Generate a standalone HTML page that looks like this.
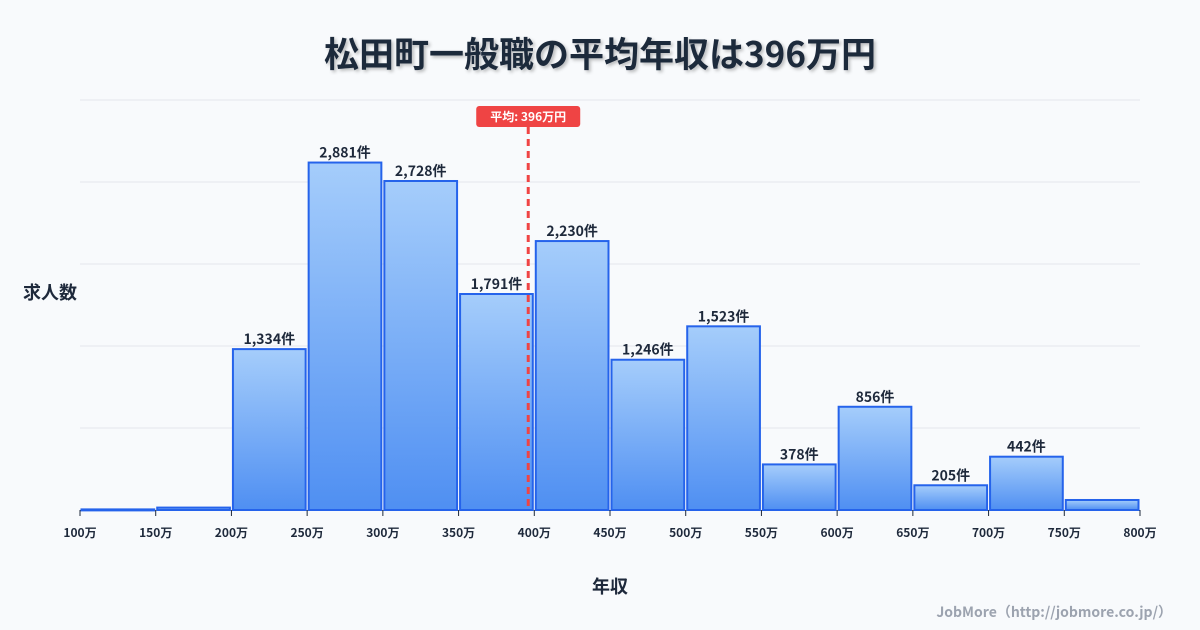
<!DOCTYPE html>
<html><head><meta charset="utf-8"><style>
body{margin:0;background:#f8fafc;}
svg{display:block;font-family:"Noto Sans CJK JP","Liberation Sans",sans-serif;}
</style></head><body>
<svg id="c" width="1200" height="630" viewBox="0 0 1200 630">
<defs><linearGradient id="g" x1="0" y1="0" x2="0" y2="1"><stop offset="0" stop-color="#a5cdfb"/><stop offset="1" stop-color="#4f8ff2"/></linearGradient>
<filter id="sh" x="-5%" y="-20%" width="110%" height="140%"><feDropShadow dx="2" dy="2" stdDeviation="1.5" flood-color="#000" flood-opacity="0.25"/></filter></defs>
<rect width="1200" height="630" fill="#f8fafc"/>
<text x="600" y="67" text-anchor="middle" font-size="35" font-weight="bold" fill="#1e293b" filter="url(#sh)">松田町一般職の平均年収は396万円</text>
<text x="50" y="299" text-anchor="middle" font-size="18" font-weight="bold" fill="#1e293b">求人数</text>
<text x="610" y="593" text-anchor="middle" font-size="18" font-weight="bold" fill="#1e293b">年収</text>
<text x="1172" y="617" text-anchor="end" font-size="14" font-weight="bold" fill="#9ca3af">JobMore（http://jobmore.co.jp/）</text>
<g id="grid"></g><g id="bars"></g><g id="ticks"></g><g id="mean"></g>
</svg>
<script>
const bins=[100,150,200,250,300,350,400,450,500,550,600,650,700,750,800];
const counts=[5,20,1334,2881,2728,1791,2230,1246,1523,378,856,205,442,83];
const showLabel=[false,false,true,true,true,true,true,true,true,true,true,true,true,false];
const meanValue=396;
const NS="http://www.w3.org/2000/svg";
const x0=80,x1=1140,yb=510,yt=100;
const ymax=Math.max(...counts)*1.18;
const xs=v=>x0+(v-bins[0])/(bins[bins.length-1]-bins[0])*(x1-x0);
const ys=v=>yb-v/ymax*(yb-yt);
function mk(t,a,p){const e=document.createElementNS(NS,t);for(const k in a)e.setAttribute(k,a[k]);p.appendChild(e);return e;}
const grid=document.getElementById('grid');
for(let i=0;i<=5;i++){const y=yb-i*(yb-yt)/5;const l=mk('line',{x1:x0,x2:x1,y1:y,y2:y,stroke:'#e5e7eb','stroke-width':1},grid);

}
const bars=document.getElementById('bars');
counts.forEach((c,i)=>{const a=xs(bins[i])+1.5,b=xs(bins[i+1])-1.5,y=ys(c);
const r=mk('rect',{x:a,y:y,width:b-a,height:Math.max(yb-y,1),fill:'url(#g)',stroke:'#2563eb','stroke-width':2},bars);


if(showLabel[i]){const t=mk('text',{x:(a+b)/2,y:y-5,'text-anchor':'middle','font-size':14,'font-weight':'bold',fill:'#1e293b'},bars);t.textContent=c.toLocaleString('en-US')+'件';

}});
const tk=document.getElementById('ticks');
bins.forEach(v=>{const x=xs(v);const l=mk('line',{x1:x,x2:x,y1:yb,y2:yb+6,stroke:'#1e293b','stroke-width':1},tk);


const t=mk('text',{x:x,y:yb+27,'text-anchor':'middle','font-size':12,'font-weight':'bold',fill:'#1e293b'},tk);t.textContent=v+'万';

});
const m=document.getElementById('mean');const mx=xs(meanValue);
const ml=mk('line',{x1:mx,x2:mx,y1:127,y2:yb,stroke:'#ef4444','stroke-width':3,'stroke-dasharray':'7,5'},m);


const mr=mk('rect',{x:mx-52,y:106,width:104,height:21,rx:3,fill:'#ef4444'},m);


const mt=mk('text',{x:mx,y:121,'text-anchor':'middle','font-size':12,'font-weight':'bold',fill:'#fff'},m);mt.textContent='平均: '+meanValue+'万円';


</script>
</body></html>
